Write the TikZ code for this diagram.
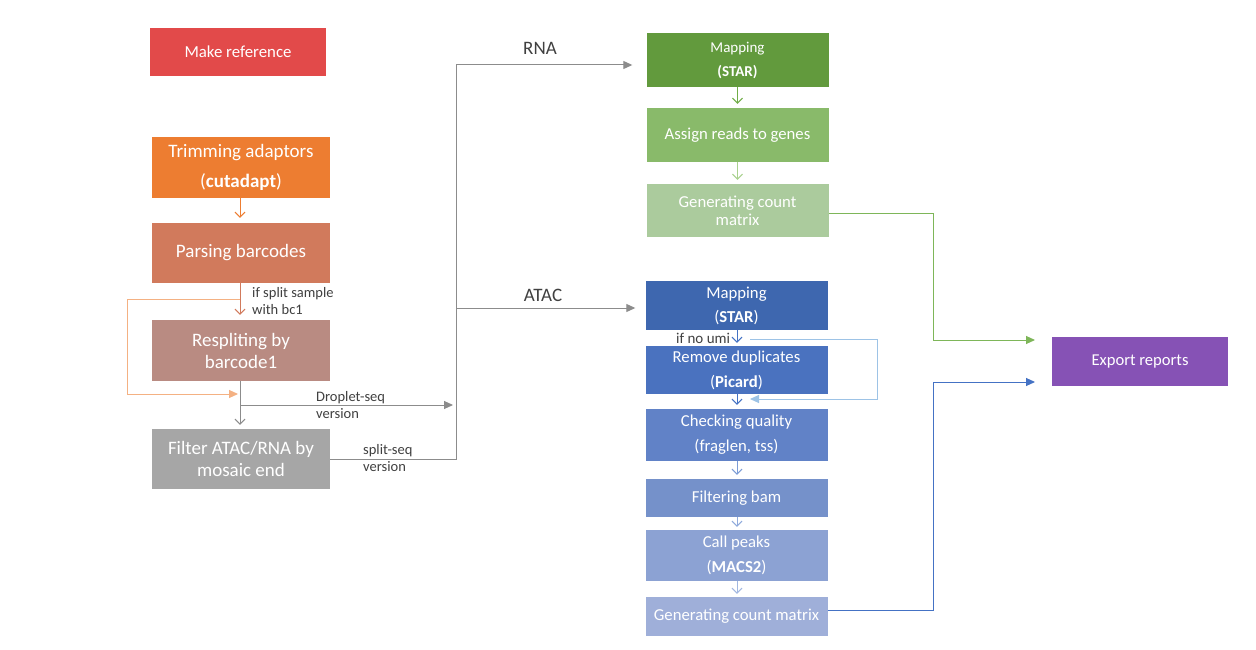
\documentclass[tikz,border=0pt]{standalone}
\usepackage{fontspec}
\setmainfont{Carlito}
\usetikzlibrary{arrows.meta}
\definecolor{cRed}{HTML}{E24A4A}
\definecolor{cOrange}{HTML}{ED7D31}
\definecolor{cParse}{HTML}{D17A5C}
\definecolor{cResplit}{HTML}{B98B82}
\definecolor{cGray}{HTML}{A6A6A6}
\definecolor{cG1}{HTML}{629A3D}
\definecolor{cG2}{HTML}{89BA6A}
\definecolor{cG3}{HTML}{ABCB9D}
\definecolor{cB1}{HTML}{3E67AF}
\definecolor{cB2}{HTML}{4A72BF}
\definecolor{cB3}{HTML}{6182C7}
\definecolor{cB4}{HTML}{7591CA}
\definecolor{cB5}{HTML}{8CA2D3}
\definecolor{cB6}{HTML}{9FAFD9}
\definecolor{cPurple}{HTML}{8652B5}
\definecolor{lnGray}{HTML}{8C8C8C}
\definecolor{lnLoop}{HTML}{F4B183}
\definecolor{lnGreen}{HTML}{70AD47}
\definecolor{lnLGreen}{HTML}{A9D18E}
\definecolor{lnBlue}{HTML}{4472C4}
\definecolor{lnLBlue}{HTML}{9DC3E6}
\definecolor{txt}{HTML}{404040}
\begin{document}
\begin{tikzpicture}[x=1pt,y=-1pt,
  box/.style={rectangle,inner sep=0pt,text=white,align=center},
  lbox/.style={box,minimum width=178pt,font=\fontsize{19}{22}\selectfont},
  rbox/.style={box,minimum width=182pt,font=\fontsize{16.7}{25}\selectfont},
  conn/.style={line width=1pt},
  vee/.style={conn,-{Straight Barb[length=5pt,width=10pt,line width=1pt]}},
  tri/.style={conn,-{Triangle[length=9pt,width=8pt]}},
  lab/.style={text=txt,inner sep=0pt,align=left,font=\fontsize{14.5}{17}\selectfont}
]
\useasboundingbox (0,0) rectangle (1256,650);
\fill[white] (0,0) rectangle (1256,650);

% left column
\node[box,fill=cRed,minimum width=176pt,minimum height=48pt,font=\fontsize{16.8}{20}\selectfont] (mkref) at (238,52) {Make reference};
\node[lbox,fill=cOrange,minimum height=61pt,font=\fontsize{19}{30}\selectfont] (trim) at (241,167.5) {Trimming adaptors\\(\textbf{cutadapt})};
\node[lbox,fill=cParse,minimum height=60pt] (parse) at (241,253) {Parsing barcodes};
\node[lbox,fill=cResplit,minimum height=61pt] (resplit) at (241,350.5) {Respliting by\\barcode1};
\node[lbox,fill=cGray,minimum height=60pt] (filter) at (241,459) {Filter ATAC/RNA by\\mosaic end};

% RNA column
\node[rbox,fill=cG1,minimum height=54pt,font=\fontsize{15}{24}\selectfont] (rmap) at (737.5,60) {Mapping\\\textbf{(STAR)}};
\node[rbox,fill=cG2,minimum height=54pt] (assign) at (737.5,135) {Assign reads to genes};
\node[rbox,fill=cG3,minimum height=53pt,font=\fontsize{16.7}{18}\selectfont] (rcount) at (737.5,210.5) {Generating count\\matrix};

% ATAC column
\node[rbox,fill=cB1,minimum height=49pt,font=\fontsize{16.7}{24}\selectfont] (amap) at (736.5,305.5) {Mapping\\(\textbf{STAR})};
\node[rbox,fill=cB2,minimum height=48pt] (dedup) at (736.5,370) {Remove duplicates\\(\textbf{Picard})};
\node[rbox,fill=cB3,minimum height=52pt] (qc) at (736.5,435) {Checking quality\\(fraglen, tss)};
\node[rbox,fill=cB4,minimum height=38pt] (filt) at (736.5,498) {Filtering bam};
\node[rbox,fill=cB5,minimum height=51pt] (peaks) at (736.5,555.5) {Call peaks\\(\textbf{MACS2})};
\node[rbox,fill=cB6,minimum height=39pt] (acount) at (736.5,616.5) {Generating count matrix};

\node[box,fill=cPurple,minimum width=176pt,minimum height=49pt,font=\fontsize{16.6}{20}\selectfont] (export) at (1140,361.5) {Export reports};

% coordinates
\coordinate (lp) at (240,299);
\coordinate (lpA) at (127,299);
\coordinate (lpB) at (127,394);
\coordinate (lpE) at (238,394);
\coordinate (dr) at (240,405);
\coordinate (drE) at (453,405);
\coordinate (vb) at (456,459);
\coordinate (vt) at (456,65);
\coordinate (va) at (456,308);
\coordinate (um) at (750,339);
\coordinate (umA) at (877,339);
\coordinate (umB) at (877,399);
\coordinate (umE) at (750,399);
\coordinate (gA) at (933,213);
\coordinate (gB) at (933,340);
\coordinate (gE) at (1035,340);
\coordinate (bA) at (933,610);
\coordinate (bB) at (933,382);
\coordinate (bE) at (1035,382);

% left connectors
\draw[vee,draw=cOrange,shorten >=5pt] (trim.south -| 240,0) -- (parse.north -| 240,0);
\draw[vee,draw=cParse,shorten >=5pt] (parse.south -| 240,0) -- (resplit.north -| 240,0);
\draw[tri,draw=lnLoop] (lp) -- (lpA) -- (lpB) -- (lpE);
\draw[vee,draw=lnGray,shorten >=4pt] (resplit.south -| 240,0) -- (filter.north -| 240,0);
\draw[tri,draw=lnGray] (dr) -- (drE);
\draw[conn,draw=lnGray] (filter.east |- vb) -- (vb) -- (vt);
\draw[tri,draw=lnGray,shorten >=14pt] (vt) -- (rmap.west |- vt);
\draw[tri,draw=lnGray,shorten >=10pt] (va) -- (amap.west |- va);

% RNA connectors
\draw[vee,draw=lnGreen,shorten >=4pt] (rmap.south) -- (assign.north);
\draw[vee,draw=lnLGreen,shorten >=4pt] (assign.south) -- (rcount.north);

% ATAC connectors
\draw[vee,draw=lnBlue,shorten >=3pt] (amap.south -| 737,0) -- (dedup.north -| 737,0);
\draw[tri,draw=lnLBlue] (um) -- (umA) -- (umB) -- (umE);
\draw[vee,draw=lnBlue,shorten >=4pt] (dedup.south -| 737,0) -- (qc.north -| 737,0);
\draw[vee,draw=lnBlue!70,shorten >=4pt] (qc.south -| 737,0) -- (filt.north -| 737,0);
\draw[vee,draw=lnBlue!60,shorten >=3pt] (filt.south -| 737,0) -- (peaks.north -| 737,0);
\draw[vee,draw=lnBlue!50,shorten >=3pt] (peaks.south -| 737,0) -- (acount.north -| 737,0);

% to export
\draw[tri,draw=lnGreen!75!lnLGreen] (rcount.east |- gA) -- (gA) -- (gB) -- (gE);
\draw[tri,draw=lnBlue] (acount.east |- bA) -- (bA) -- (bB) -- (bE);

% labels
\node[lab,anchor=west] (l1) at (252,301.5) {if split sample\\with bc1};
\node[lab,anchor=west] (l2) at (316,405.5) {Droplet-seq\\version};
\node[lab,anchor=west] (l3) at (363,458) {split-seq\\version};
\node[lab,font=\fontsize{19}{22}\selectfont] (l4) at (540,48) {RNA};
\node[lab,font=\fontsize{19}{22}\selectfont] (l5) at (543,295) {ATAC};
\node[lab,anchor=west,font=\fontsize{15}{18}\selectfont] (l6) at (676,338) {if no umi};
\end{tikzpicture}
\end{document}
